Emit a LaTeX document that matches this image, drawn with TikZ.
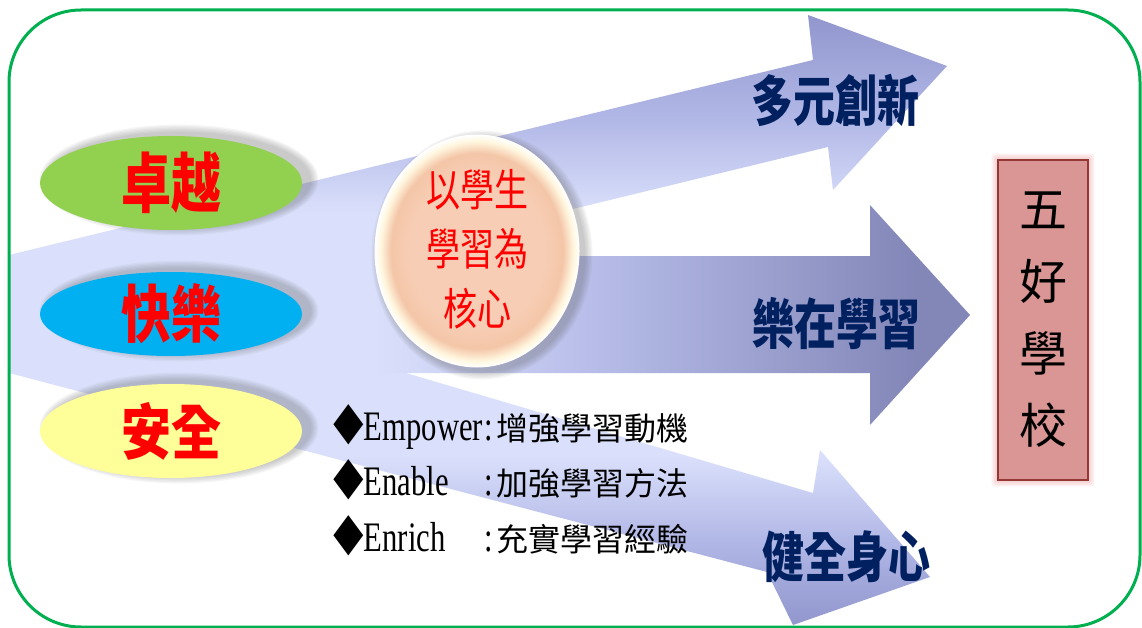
\documentclass[tikz,border=0pt]{standalone}
\usepackage{graphicx}
\usepackage{fontspec}
\setmainfont{Liberation Serif}
\newfontfamily\cjk{Noto Sans CJK TC}
\newfontfamily\latinf[FakeStretch=0.73]{Liberation Serif}
\usetikzlibrary{shapes.geometric}
\definecolor{arlight}{RGB}{218,224,251}
\definecolor{armid}{RGB}{176,182,229}
\definecolor{ardark}{RGB}{145,150,205}
\definecolor{frameg}{RGB}{0,176,80}
\definecolor{navy}{RGB}{0,32,96}
\definecolor{ellg}{RGB}{146,208,80}
\definecolor{ellb}{RGB}{0,176,240}
\definecolor{elly}{RGB}{255,255,153}
\definecolor{boxfill}{RGB}{217,150,148}
\definecolor{boxline}{RGB}{149,55,53}
\definecolor{boxglow}{RGB}{240,150,150}
\definecolor{peach}{RGB}{247,206,181}
\definecolor{peachdeep}{RGB}{244,198,168}
\definecolor{cream}{RGB}{255,246,222}
\definecolor{shadowc}{RGB}{90,90,90}
\pgfdeclarehorizontalshading{midarrow}{100bp}{color(0bp)=(arlight); color(44bp)=(arlight); color(55bp)=(armid!80!arlight); color(72bp)=(ardark!90!black); color(100bp)=(ardark!90!black)}
\pgfdeclareverticalshading{toparrow}{100bp}{color(0bp)=(arlight); color(45bp)=(arlight); color(60bp)=(armid); color(75bp)=(ardark); color(100bp)=(ardark)}
\pgfdeclareverticalshading{botarrow}{100bp}{color(0bp)=(ardark); color(25bp)=(ardark); color(36bp)=(armid); color(48bp)=(arlight); color(100bp)=(arlight)}
\pgfdeclareradialshading{peachball}{\pgfpoint{0bp}{0bp}}{color(0bp)=(peach); color(16bp)=(peach); color(21bp)=(peachdeep); color(23.5bp)=(cream); color(25bp)=(white); color(50bp)=(white)}
\newcommand{\tallt}[2]{\scalebox{1}[#1]{#2}}
\tikzset{
  oval/.style={ellipse, inner sep=0pt, minimum width=262pt},
  ovaltext/.style={text=red, font=\cjk\bfseries\fontsize{50}{50}\selectfont},
  arrowlabel/.style={text=navy, font=\cjk\bfseries\fontsize{42}{42}\selectfont},
  bullet/.style={anchor=base west, inner sep=0pt, font=\fontsize{42}{42}\selectfont},
}
\newcommand{\softshadow}[4]{%
  \foreach \k in {1,...,6}{%
    \fill[shadowc, opacity=0.06] (#1,#2) ellipse [x radius={(#3+(7-\k)*1.4)*1pt}, y radius={(#4+(7-\k)*1.4)*1pt}];
  }}
\newcommand{\bline}[2]{{\cjk\fontsize{36}{36}\selectfont\scalebox{0.85}[1.15]{◆}}\makebox[133pt][l]{\latinf #1\hfill:\hspace{4pt}}{\cjk\fontsize{32}{32}\selectfont #2}}
\begin{document}
\begin{tikzpicture}[x=1pt,y=-1pt]
\useasboundingbox (0,0) rectangle (1142,628);
\fill[white] (0,0) rectangle (1142,628);
% arrows
\shade[shading=botarrow]
  (9,256) -- (813,493) -- (820,450) -- (930,577) -- (793,625) -- (767,572) -- (9,373) -- cycle;
\shade[shading=toparrow]
  (9,255) -- (813,60) -- (808,15) -- (947,66) -- (833,190) -- (828,147) -- (9,346) -- cycle;
\shade[shading=midarrow]
  (9,256) -- (870,256) -- (870,205) -- (970,315) -- (870,425) -- (870,373) -- (9,373) -- cycle;
% core circle
\softshadow{482}{255}{102}{116}
\node[ellipse, inner sep=0pt, minimum width=205pt, minimum height=233pt, shade, shading=peachball] (core) at (477,251) {};
\node[align=center, text=red, font=\cjk\fontsize{34}{46}\selectfont] (coretext) at (477,254) {\tallt{1.3}{\begin{tabular}{@{}c@{}}以學生\\[0pt]學習為\\[0pt]核心\end{tabular}}};
% ovals
\softshadow{179}{180}{131}{47}
\node[oval, fill=ellg, minimum height=94pt] (excel) at (171,183) {};
\node[ovaltext] at (excel) {\tallt{1.3}{卓越}};
\softshadow{179}{311}{131}{42}
\node[oval, fill=ellb, minimum height=84pt] (happy) at (171,314) {};
\node[ovaltext] at (happy) {\tallt{1.25}{快樂}};
\softshadow{179}{428}{131}{47}
\node[oval, fill=elly, minimum height=94pt] (safe) at (171,431) {};
\node[ovaltext] at (safe) {\tallt{1.2}{安全}};
% arrow labels
\node[arrowlabel] (lbl1) at (835,100) {\tallt{1.3}{多元創新}};
\node[arrowlabel] (lbl2) at (836,324) {\tallt{1.3}{樂在學習}};
\node[arrowlabel] (lbl3) at (846,557) {\tallt{1.3}{健全身心}};
% bullets
\node[bullet] (b1) at (333,440) {\bline{Empower}{增強學習動機}};
\node[bullet] (b2) at (333,495) {\bline{Enable}{加強學習方法}};
\node[bullet] (b3) at (333,551) {\bline{Enrich}{充實學習經驗}};
% school box
\foreach \k in {1,...,4}{%
  \fill[boxglow, opacity=0.13, rounded corners=3pt] ({998-\k*1.6},{160-\k*1.6}) rectangle ({1088+\k*1.6},{480+\k*1.6});
}
\node[draw=boxline, line width=1.5pt, fill=boxfill, minimum width=90pt, minimum height=320pt, inner sep=0pt] (school) at (1043,320) {};
\node[font=\cjk\fontsize{48}{72}\selectfont, align=center] (schooltext) at (school) {五\\好\\學\\校};
% frame
\draw[frameg, line width=3pt, rounded corners=72pt] (9,10) rectangle (1140,627);
\end{tikzpicture}
\end{document}
